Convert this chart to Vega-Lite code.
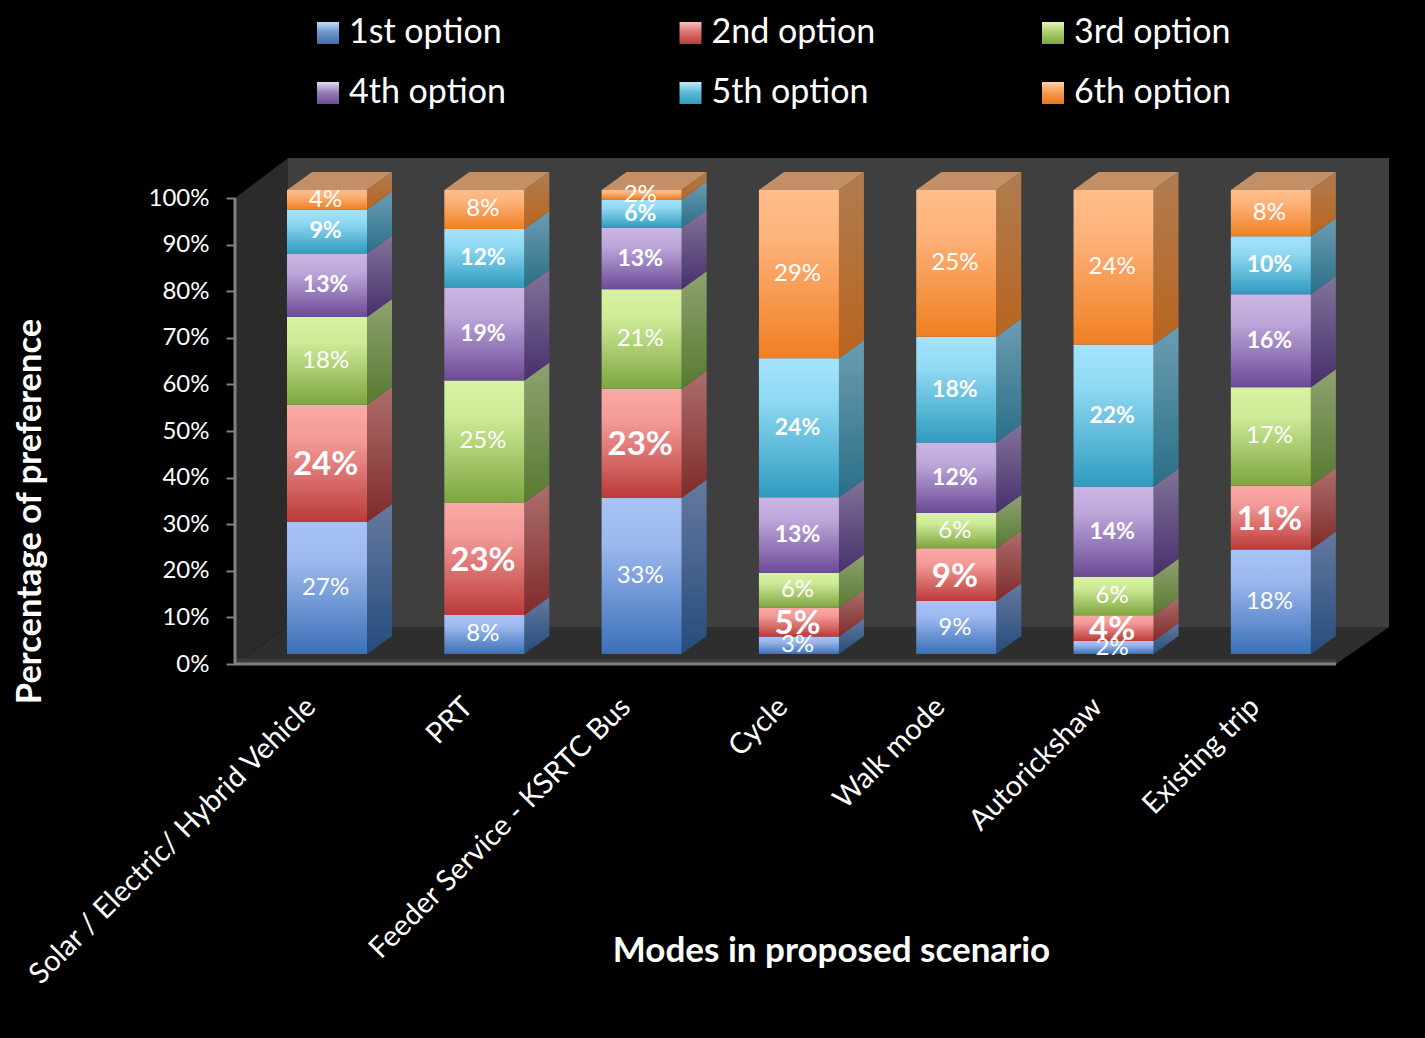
{
  "$schema": "https://vega.github.io/schema/vega-lite/v6.json",
  "width": 1154,
  "height": 506,
  "autosize": {"type": "none"},
  "padding": {"left": 235, "top": 158, "right": 36, "bottom": 374},
  "background": "#000000",
  "config": {"view": {"stroke": null}, "font": "Lato"},
  "datasets": {
    "shares": [
      {"mode": "Solar / Electric/ Hybrid Vehicle", "option": "1st option", "pct": 27},
      {"mode": "Solar / Electric/ Hybrid Vehicle", "option": "2nd option", "pct": 24},
      {"mode": "Solar / Electric/ Hybrid Vehicle", "option": "3rd option", "pct": 18},
      {"mode": "Solar / Electric/ Hybrid Vehicle", "option": "4th option", "pct": 13},
      {"mode": "Solar / Electric/ Hybrid Vehicle", "option": "5th option", "pct": 9},
      {"mode": "Solar / Electric/ Hybrid Vehicle", "option": "6th option", "pct": 4},
      {"mode": "PRT", "option": "1st option", "pct": 8},
      {"mode": "PRT", "option": "2nd option", "pct": 23},
      {"mode": "PRT", "option": "3rd option", "pct": 25},
      {"mode": "PRT", "option": "4th option", "pct": 19},
      {"mode": "PRT", "option": "5th option", "pct": 12},
      {"mode": "PRT", "option": "6th option", "pct": 8},
      {"mode": "Feeder Service - KSRTC Bus", "option": "1st option", "pct": 33},
      {"mode": "Feeder Service - KSRTC Bus", "option": "2nd option", "pct": 23},
      {"mode": "Feeder Service - KSRTC Bus", "option": "3rd option", "pct": 21},
      {"mode": "Feeder Service - KSRTC Bus", "option": "4th option", "pct": 13},
      {"mode": "Feeder Service - KSRTC Bus", "option": "5th option", "pct": 6},
      {"mode": "Feeder Service - KSRTC Bus", "option": "6th option", "pct": 2},
      {"mode": "Cycle", "option": "1st option", "pct": 3},
      {"mode": "Cycle", "option": "2nd option", "pct": 5},
      {"mode": "Cycle", "option": "3rd option", "pct": 6},
      {"mode": "Cycle", "option": "4th option", "pct": 13},
      {"mode": "Cycle", "option": "5th option", "pct": 24},
      {"mode": "Cycle", "option": "6th option", "pct": 29},
      {"mode": "Walk mode", "option": "1st option", "pct": 9},
      {"mode": "Walk mode", "option": "2nd option", "pct": 9},
      {"mode": "Walk mode", "option": "3rd option", "pct": 6},
      {"mode": "Walk mode", "option": "4th option", "pct": 12},
      {"mode": "Walk mode", "option": "5th option", "pct": 18},
      {"mode": "Walk mode", "option": "6th option", "pct": 25},
      {"mode": "Autorickshaw", "option": "1st option", "pct": 2},
      {"mode": "Autorickshaw", "option": "2nd option", "pct": 4},
      {"mode": "Autorickshaw", "option": "3rd option", "pct": 6},
      {"mode": "Autorickshaw", "option": "4th option", "pct": 14},
      {"mode": "Autorickshaw", "option": "5th option", "pct": 22},
      {"mode": "Autorickshaw", "option": "6th option", "pct": 24},
      {"mode": "Existing trip", "option": "1st option", "pct": 18},
      {"mode": "Existing trip", "option": "2nd option", "pct": 11},
      {"mode": "Existing trip", "option": "3rd option", "pct": 17},
      {"mode": "Existing trip", "option": "4th option", "pct": 16},
      {"mode": "Existing trip", "option": "5th option", "pct": 10},
      {"mode": "Existing trip", "option": "6th option", "pct": 8}
    ]
  },
  "data": {"name": "shares"},
  "transform": [
    {"stack": "pct", "groupby": ["mode"], "sort": [{"field": "option", "order": "ascending"}], "offset": "normalize", "as": ["s0", "s1"]},
    {"calculate": "indexof(['Solar / Electric/ Hybrid Vehicle','PRT','Feeder Service - KSRTC Bus','Cycle','Walk mode','Autorickshaw','Existing trip'], datum.mode)", "as": "slot"},
    {"calculate": "0.0215 + 0.996 * datum.s0", "as": "b0"},
    {"calculate": "0.0215 + 0.996 * datum.s1", "as": "b1"},
    {"calculate": "(datum.b0 + datum.b1) / 2", "as": "mid"},
    {"calculate": "datum.slot + 0.3306", "as": "left"},
    {"calculate": "datum.slot + 0.8392", "as": "right"},
    {"calculate": "datum.slot + 0.576", "as": "centre"},
    {"calculate": "datum.right + 0.159", "as": "rightBack"},
    {"calculate": "datum.b0 + 0.0386", "as": "backLow"},
    {"calculate": "datum.b1 + 0.0386", "as": "backHigh"}
  ],
  "resolve": {"axis": {"x": "independent", "y": "independent"}},
  "layer": [
    {
      "description": "back wall, carries the two axes",
      "data": {"values": [{"x0": 0.337, "x1": 7.336, "y0": 0.0794, "y1": 1.086}]},
      "mark": {"type": "rect", "fill": "#3f3f3f"},
      "encoding": {
        "x": {
          "field": "x0", "type": "quantitative",
          "scale": {"domain": [0, 7.336], "nice": false, "zero": false},
          "axis": {
            "values": [0.5, 1.5, 2.5, 3.5, 4.5, 5.5, 6.5],
            "labelExpr": "['Solar / Electric/ Hybrid Vehicle','PRT','Feeder Service - KSRTC Bus','Cycle','Walk mode','Autorickshaw','Existing trip'][floor(datum.value)]",
            "domain": false, "ticks": false, "grid": false,
            "labelAngle": -45, "labelAlign": "right", "labelBaseline": "top",
            "labelFontSize": 29, "labelColor": "#ffffff", "labelFont": "Lato",
            "labelLimit": 700, "labelOverlap": false, "labelBound": false, "labelFlush": false, "labelPadding": 28, "labelOffset": -13,
            "title": "Modes in proposed scenario",
            "titleFont": "Lato", "titleFontSize": 35, "titleFontWeight": "bold", "titleColor": "#ffffff",
            "titleX": 596, "titleY": 286, "titleAnchor": "middle", "titleAlign": "center", "titleBaseline": "middle"
          }
        },
        "x2": {"field": "x1"},
        "y": {
          "field": "y0", "type": "quantitative",
          "scale": {"domain": [0, 1.086], "nice": false, "zero": false},
          "axis": {
            "values": [0, 0.1, 0.2, 0.3, 0.4, 0.5, 0.6, 0.7, 0.8, 0.9, 1],
            "format": ".0%",
            "domain": false, "grid": false,
            "tickColor": "#808080", "tickWidth": 2, "tickSize": 9,
            "labelFontSize": 24, "labelColor": "#ffffff", "labelFont": "Lato", "labelPadding": 17,
            "labelOverlap": false, "labelBound": false, "labelFlush": false,
            "title": "Percentage of preference",
            "titleFont": "Lato", "titleFontSize": 34.5, "titleFontWeight": "bold", "titleColor": "#ffffff",
            "titleX": -205, "titleY": 353, "titleAnchor": "middle", "titleAlign": "center", "titleBaseline": "middle"
          }
        },
        "y2": {"field": "y1"}
      }
    },
    {
      "description": "side wall",
      "data": {"values": [{"x": 0, "low": 0, "high": 1}, {"x": 0.337, "low": 0.0794, "high": 1.086}]},
      "mark": {"type": "area", "fill": "#2b2b2b"},
      "encoding": {
        "x": {"field": "x", "type": "quantitative", "axis": null, "scale": {"domain": [0, 7.336], "nice": false, "zero": false}},
        "y": {"field": "low", "type": "quantitative", "stack": null, "axis": null, "scale": {"domain": [0, 1.086], "nice": false, "zero": false}},
        "y2": {"field": "high"}
      }
    },
    {
      "description": "floor",
      "data": {"values": [{"y": 0, "from": 0, "to": 7}, {"y": 0.0794, "from": 0.337, "to": 7.336}]},
      "mark": {"type": "area", "orient": "horizontal", "fill": "#2e2e2e"},
      "encoding": {
        "y": {"field": "y", "type": "quantitative", "axis": null, "scale": {"domain": [0, 1.086], "nice": false, "zero": false}},
        "x": {"field": "from", "type": "quantitative", "stack": null, "axis": null, "scale": {"domain": [0, 7.336], "nice": false, "zero": false}},
        "x2": {"field": "to"}
      }
    },
    {
      "description": "front lip of the floor",
      "data": {"values": [{"x0": 0, "x1": 7, "y0": 0, "y1": 0.011}]},
      "mark": {"type": "rect", "fill": "#3a3a3a"},
      "encoding": {
        "x": {"field": "x0", "type": "quantitative", "axis": null, "scale": {"domain": [0, 7.336], "nice": false, "zero": false}},
        "x2": {"field": "x1"},
        "y": {"field": "y0", "type": "quantitative", "axis": null, "scale": {"domain": [0, 1.086], "nice": false, "zero": false}},
        "y2": {"field": "y1"}
      }
    },
    {
      "description": "vertical axis line",
      "data": {"values": [{"x": 0, "y0": 0, "y1": 1}]},
      "mark": {"type": "rule", "stroke": "#808080", "strokeWidth": 3},
      "encoding": {
        "x": {"field": "x", "type": "quantitative", "axis": null, "scale": {"domain": [0, 7.336], "nice": false, "zero": false}},
        "y": {"field": "y0", "type": "quantitative", "axis": null, "scale": {"domain": [0, 1.086], "nice": false, "zero": false}},
        "y2": {"field": "y1"}
      }
    },
    {
      "description": "horizontal axis line",
      "data": {"values": [{"x0": 0, "x1": 7, "y": 0}]},
      "mark": {"type": "rule", "stroke": "#808080", "strokeWidth": 3},
      "encoding": {
        "x": {"field": "x0", "type": "quantitative", "axis": null, "scale": {"domain": [0, 7.336], "nice": false, "zero": false}},
        "x2": {"field": "x1"},
        "y": {"field": "y", "type": "quantitative", "axis": null, "scale": {"domain": [0, 1.086], "nice": false, "zero": false}}
      }
    },
    {
      "description": "top faces of the bars",
      "transform": [
        {"filter": "datum.option === '6th option'"},
        {"fold": ["left", "centre"], "as": ["edge", "unused"]},
        {"calculate": "datum.left + (datum.edge === 'centre' ? 0.159 : 0)", "as": "tx0"},
        {"calculate": "datum.right + (datum.edge === 'centre' ? 0.159 : 0)", "as": "tx1"},
        {"calculate": "datum.b1 + (datum.edge === 'centre' ? 0.0386 : 0)", "as": "ty"}
      ],
      "mark": {"type": "area", "orient": "horizontal", "fill": "#c28f66"},
      "encoding": {
        "y": {"field": "ty", "type": "quantitative", "axis": null, "scale": {"domain": [0, 1.086], "nice": false, "zero": false}},
        "x": {"field": "tx0", "type": "quantitative", "stack": null, "axis": null, "scale": {"domain": [0, 7.336], "nice": false, "zero": false}},
        "x2": {"field": "tx1"},
        "detail": {"field": "mode"}
      }
    },
    {
      "description": "one small square per segment, kept behind the front faces; its shape scale feeds the legend",
      "mark": {"type": "point", "filled": true, "size": 1, "fill": "#000000", "opacity": 1},
      "encoding": {
        "x": {"field": "centre", "type": "quantitative", "axis": null, "scale": {"domain": [0, 7.336], "nice": false, "zero": false}},
        "y": {"field": "mid", "type": "quantitative", "axis": null, "scale": {"domain": [0, 1.086], "nice": false, "zero": false}},
        "shape": {
          "field": "option", "type": "nominal",
          "scale": {
            "domain": ["1st option", "2nd option", "3rd option", "4th option", "5th option", "6th option"],
            "range": ["square", "square", "square", "square", "square", "square"]
          },
          "legend": {
            "orient": "none", "legendX": 76, "legendY": -142, "columns": 3, "direction": "horizontal", "title": null,
            "symbolSize": 484, "symbolStrokeWidth": 0,
            "labelFont": "Lato", "labelFontSize": 34, "labelColor": "#ffffff", "labelOffset": 4, "labelLimit": 400,
            "columnPadding": 160.5, "rowPadding": 26, "gridAlign": "all",
            "encoding": {
              "symbols": {
                "opacity": {"value": 1},
                "fill": {"value": {"signal": "{gradient: 'linear', x1: 0, y1: 0, x2: 0, y2: 1, stops: [{offset: 0, color: {'1st option': '#c4d8f8', '2nd option': '#fbc0be', '3rd option': '#e4f6b8', '4th option': '#e4d8f4', '5th option': '#c4ecfb', '6th option': '#ffd4ac'}[datum.value]}, {offset: 0.45, color: {'1st option': '#6f97cc', '2nd option': '#dc7371', '3rd option': '#aecf72', '4th option': '#9a82b8', '5th option': '#62bcd9', '6th option': '#f79c55'}[datum.value]}, {offset: 1, color: {'1st option': '#3f6fa8', '2nd option': '#b63e3c', '3rd option': '#7ea540', '4th option': '#6c4a96', '5th option': '#2f9bbf', '6th option': '#e8761c'}[datum.value]}]}"}}
              }
            }
          }
        }
      }
    },
    {
      "transform": [{"filter": "datum.option === '1st option'"}, {"fold": ["right", "rightBack"], "as": ["edge", "sx"]}, {"calculate": "datum.edge === 'right' ? datum.b0 : datum.backLow", "as": "sy0"}, {"calculate": "datum.edge === 'right' ? datum.b1 : datum.backHigh", "as": "sy1"}],
      "mark": {"type": "area", "fill": {"gradient": "linear", "x1": 0, "y1": 0, "x2": 0, "y2": 1, "stops": [{"offset": 0, "color": "#66799f"}, {"offset": 1, "color": "#254c7c"}]}},
      "encoding": {
        "x": {"field": "sx", "type": "quantitative", "axis": null, "scale": {"domain": [0, 7.336], "nice": false, "zero": false}},
        "y": {"field": "sy0", "type": "quantitative", "stack": null, "axis": null, "scale": {"domain": [0, 1.086], "nice": false, "zero": false}},
        "y2": {"field": "sy1"},
        "detail": {"field": "mode"}
      }
    },
    {
      "transform": [{"filter": "datum.option === '2nd option'"}, {"fold": ["right", "rightBack"], "as": ["edge", "sx"]}, {"calculate": "datum.edge === 'right' ? datum.b0 : datum.backLow", "as": "sy0"}, {"calculate": "datum.edge === 'right' ? datum.b1 : datum.backHigh", "as": "sy1"}],
      "mark": {"type": "area", "fill": {"gradient": "linear", "x1": 0, "y1": 0, "x2": 0, "y2": 1, "stops": [{"offset": 0, "color": "#ac6e6c"}, {"offset": 1, "color": "#7f2b29"}]}},
      "encoding": {
        "x": {"field": "sx", "type": "quantitative", "axis": null, "scale": {"domain": [0, 7.336], "nice": false, "zero": false}},
        "y": {"field": "sy0", "type": "quantitative", "stack": null, "axis": null, "scale": {"domain": [0, 1.086], "nice": false, "zero": false}},
        "y2": {"field": "sy1"},
        "detail": {"field": "mode"}
      }
    },
    {
      "transform": [{"filter": "datum.option === '3rd option'"}, {"fold": ["right", "rightBack"], "as": ["edge", "sx"]}, {"calculate": "datum.edge === 'right' ? datum.b0 : datum.backLow", "as": "sy0"}, {"calculate": "datum.edge === 'right' ? datum.b1 : datum.backHigh", "as": "sy1"}],
      "mark": {"type": "area", "fill": {"gradient": "linear", "x1": 0, "y1": 0, "x2": 0, "y2": 1, "stops": [{"offset": 0, "color": "#8ea272"}, {"offset": 1, "color": "#587a30"}]}},
      "encoding": {
        "x": {"field": "sx", "type": "quantitative", "axis": null, "scale": {"domain": [0, 7.336], "nice": false, "zero": false}},
        "y": {"field": "sy0", "type": "quantitative", "stack": null, "axis": null, "scale": {"domain": [0, 1.086], "nice": false, "zero": false}},
        "y2": {"field": "sy1"},
        "detail": {"field": "mode"}
      }
    },
    {
      "transform": [{"filter": "datum.option === '4th option'"}, {"fold": ["right", "rightBack"], "as": ["edge", "sx"]}, {"calculate": "datum.edge === 'right' ? datum.b0 : datum.backLow", "as": "sy0"}, {"calculate": "datum.edge === 'right' ? datum.b1 : datum.backHigh", "as": "sy1"}],
      "mark": {"type": "area", "fill": {"gradient": "linear", "x1": 0, "y1": 0, "x2": 0, "y2": 1, "stops": [{"offset": 0, "color": "#82739a"}, {"offset": 1, "color": "#46306c"}]}},
      "encoding": {
        "x": {"field": "sx", "type": "quantitative", "axis": null, "scale": {"domain": [0, 7.336], "nice": false, "zero": false}},
        "y": {"field": "sy0", "type": "quantitative", "stack": null, "axis": null, "scale": {"domain": [0, 1.086], "nice": false, "zero": false}},
        "y2": {"field": "sy1"},
        "detail": {"field": "mode"}
      }
    },
    {
      "transform": [{"filter": "datum.option === '5th option'"}, {"fold": ["right", "rightBack"], "as": ["edge", "sx"]}, {"calculate": "datum.edge === 'right' ? datum.b0 : datum.backLow", "as": "sy0"}, {"calculate": "datum.edge === 'right' ? datum.b1 : datum.backHigh", "as": "sy1"}],
      "mark": {"type": "area", "fill": {"gradient": "linear", "x1": 0, "y1": 0, "x2": 0, "y2": 1, "stops": [{"offset": 0, "color": "#6c9db2"}, {"offset": 1, "color": "#2a6f87"}]}},
      "encoding": {
        "x": {"field": "sx", "type": "quantitative", "axis": null, "scale": {"domain": [0, 7.336], "nice": false, "zero": false}},
        "y": {"field": "sy0", "type": "quantitative", "stack": null, "axis": null, "scale": {"domain": [0, 1.086], "nice": false, "zero": false}},
        "y2": {"field": "sy1"},
        "detail": {"field": "mode"}
      }
    },
    {
      "transform": [{"filter": "datum.option === '6th option'"}, {"fold": ["right", "rightBack"], "as": ["edge", "sx"]}, {"calculate": "datum.edge === 'right' ? datum.b0 : datum.backLow", "as": "sy0"}, {"calculate": "datum.edge === 'right' ? datum.b1 : datum.backHigh", "as": "sy1"}],
      "mark": {"type": "area", "fill": {"gradient": "linear", "x1": 0, "y1": 0, "x2": 0, "y2": 1, "stops": [{"offset": 0, "color": "#b07c50"}, {"offset": 1, "color": "#b9651f"}]}},
      "encoding": {
        "x": {"field": "sx", "type": "quantitative", "axis": null, "scale": {"domain": [0, 7.336], "nice": false, "zero": false}},
        "y": {"field": "sy0", "type": "quantitative", "stack": null, "axis": null, "scale": {"domain": [0, 1.086], "nice": false, "zero": false}},
        "y2": {"field": "sy1"},
        "detail": {"field": "mode"}
      }
    },
    {
      "transform": [{"filter": "datum.option === '1st option'"}],
      "mark": {"type": "rect", "fill": {"gradient": "linear", "x1": 0, "y1": 0, "x2": 0, "y2": 1, "stops": [{"offset": 0, "color": "#a8c3f6"}, {"offset": 0.3, "color": "#9cb8ee"}, {"offset": 1, "color": "#3a70b8"}]}},
      "encoding": {
        "x": {"field": "left", "type": "quantitative", "axis": null, "scale": {"domain": [0, 7.336], "nice": false, "zero": false}},
        "x2": {"field": "right"},
        "y": {"field": "b0", "type": "quantitative", "axis": null, "scale": {"domain": [0, 1.086], "nice": false, "zero": false}},
        "y2": {"field": "b1"}
      }
    },
    {
      "transform": [{"filter": "datum.option === '2nd option'"}],
      "mark": {"type": "rect", "fill": {"gradient": "linear", "x1": 0, "y1": 0, "x2": 0, "y2": 1, "stops": [{"offset": 0, "color": "#fba9a6"}, {"offset": 0.3, "color": "#f39a98"}, {"offset": 1, "color": "#ba3b39"}]}},
      "encoding": {
        "x": {"field": "left", "type": "quantitative", "axis": null, "scale": {"domain": [0, 7.336], "nice": false, "zero": false}},
        "x2": {"field": "right"},
        "y": {"field": "b0", "type": "quantitative", "axis": null, "scale": {"domain": [0, 1.086], "nice": false, "zero": false}},
        "y2": {"field": "b1"}
      }
    },
    {
      "transform": [{"filter": "datum.option === '3rd option'"}],
      "mark": {"type": "rect", "fill": {"gradient": "linear", "x1": 0, "y1": 0, "x2": 0, "y2": 1, "stops": [{"offset": 0, "color": "#d8f3a2"}, {"offset": 0.3, "color": "#cdea96"}, {"offset": 1, "color": "#7ea540"}]}},
      "encoding": {
        "x": {"field": "left", "type": "quantitative", "axis": null, "scale": {"domain": [0, 7.336], "nice": false, "zero": false}},
        "x2": {"field": "right"},
        "y": {"field": "b0", "type": "quantitative", "axis": null, "scale": {"domain": [0, 1.086], "nice": false, "zero": false}},
        "y2": {"field": "b1"}
      }
    },
    {
      "transform": [{"filter": "datum.option === '4th option'"}],
      "mark": {"type": "rect", "fill": {"gradient": "linear", "x1": 0, "y1": 0, "x2": 0, "y2": 1, "stops": [{"offset": 0, "color": "#cab6e4"}, {"offset": 0.3, "color": "#bda7da"}, {"offset": 1, "color": "#6c4a96"}]}},
      "encoding": {
        "x": {"field": "left", "type": "quantitative", "axis": null, "scale": {"domain": [0, 7.336], "nice": false, "zero": false}},
        "x2": {"field": "right"},
        "y": {"field": "b0", "type": "quantitative", "axis": null, "scale": {"domain": [0, 1.086], "nice": false, "zero": false}},
        "y2": {"field": "b1"}
      }
    },
    {
      "transform": [{"filter": "datum.option === '5th option'"}],
      "mark": {"type": "rect", "fill": {"gradient": "linear", "x1": 0, "y1": 0, "x2": 0, "y2": 1, "stops": [{"offset": 0, "color": "#a6e3fc"}, {"offset": 0.3, "color": "#8fd9f3"}, {"offset": 1, "color": "#2f9bbf"}]}},
      "encoding": {
        "x": {"field": "left", "type": "quantitative", "axis": null, "scale": {"domain": [0, 7.336], "nice": false, "zero": false}},
        "x2": {"field": "right"},
        "y": {"field": "b0", "type": "quantitative", "axis": null, "scale": {"domain": [0, 1.086], "nice": false, "zero": false}},
        "y2": {"field": "b1"}
      }
    },
    {
      "transform": [{"filter": "datum.option === '6th option'"}],
      "mark": {"type": "rect", "fill": {"gradient": "linear", "x1": 0, "y1": 0, "x2": 0, "y2": 1, "stops": [{"offset": 0, "color": "#ffbe8b"}, {"offset": 0.3, "color": "#fdb279"}, {"offset": 1, "color": "#f07f22"}]}},
      "encoding": {
        "x": {"field": "left", "type": "quantitative", "axis": null, "scale": {"domain": [0, 7.336], "nice": false, "zero": false}},
        "x2": {"field": "right"},
        "y": {"field": "b0", "type": "quantitative", "axis": null, "scale": {"domain": [0, 1.086], "nice": false, "zero": false}},
        "y2": {"field": "b1"}
      }
    },
    {
      "description": "labels of the 1st, 3rd and 6th options",
      "transform": [{"filter": "indexof(['1st option','3rd option','6th option'], datum.option) >= 0"}, {"calculate": "datum.pct + '%'", "as": "label"}],
      "mark": {"type": "text", "font": "Lato", "fontSize": 24, "fill": "#ffffff", "baseline": "middle", "align": "center"},
      "encoding": {
        "x": {"field": "centre", "type": "quantitative", "axis": null, "scale": {"domain": [0, 7.336], "nice": false, "zero": false}},
        "y": {"field": "mid", "type": "quantitative", "axis": null, "scale": {"domain": [0, 1.086], "nice": false, "zero": false}},
        "text": {"field": "label"}
      }
    },
    {
      "description": "labels of the 4th and 5th options",
      "transform": [{"filter": "indexof(['4th option','5th option'], datum.option) >= 0"}, {"calculate": "datum.pct + '%'", "as": "label"}],
      "mark": {"type": "text", "font": "Lato", "fontSize": 23, "fontWeight": "bold", "fill": "#ffffff", "baseline": "middle", "align": "center"},
      "encoding": {
        "x": {"field": "centre", "type": "quantitative", "axis": null, "scale": {"domain": [0, 7.336], "nice": false, "zero": false}},
        "y": {"field": "mid", "type": "quantitative", "axis": null, "scale": {"domain": [0, 1.086], "nice": false, "zero": false}},
        "text": {"field": "label"}
      }
    },
    {
      "description": "labels of the 2nd option",
      "transform": [{"filter": "datum.option === '2nd option'"}, {"calculate": "datum.pct + '%'", "as": "label"}],
      "mark": {"type": "text", "font": "Lato", "fontSize": 33, "fontWeight": "bold", "fill": "#ffffff", "baseline": "middle", "align": "center", "dy": 2},
      "encoding": {
        "x": {"field": "centre", "type": "quantitative", "axis": null, "scale": {"domain": [0, 7.336], "nice": false, "zero": false}},
        "y": {"field": "mid", "type": "quantitative", "axis": null, "scale": {"domain": [0, 1.086], "nice": false, "zero": false}},
        "text": {"field": "label"}
      }
    }
  ]
}
